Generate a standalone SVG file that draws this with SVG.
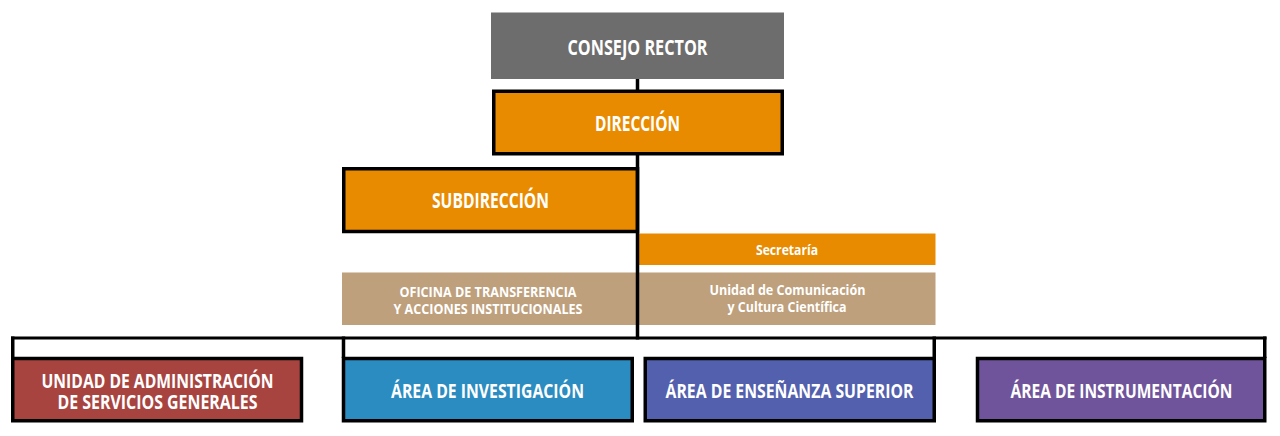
<svg xmlns="http://www.w3.org/2000/svg" width="1280" height="436" viewBox="0 0 1280 436">
<style>
.t{font-family:"Open Sans","Liberation Sans",sans-serif;font-weight:700;fill:#fff;text-anchor:middle}
.big{font-size:21px}
.bot{font-size:20px}
.two{font-size:19px}
.mid{font-size:15px}
.sm{font-size:15px}
.box{stroke:#000;stroke-width:3.5}
.orange{fill:#e98b00}
.tan{fill:#bea07c}
.ln{stroke:#000;fill:none}
</style>
<rect width="1280" height="436" fill="#fff"/>
<g id="consejo-rector">
<rect x="491" y="12.5" width="293" height="66.5" fill="#6d6d6d"/>
<text class="t big" x="637.5" y="55" textLength="140" lengthAdjust="spacingAndGlyphs">CONSEJO RECTOR</text>
</g>
<g id="direccion">
<rect class="box orange" x="493.75" y="91.25" width="288.5" height="62.5"/>
<text class="t big" x="637.5" y="131" textLength="85" lengthAdjust="spacingAndGlyphs">DIRECCIÓN</text>
</g>
<g id="subdireccion">
<rect class="box orange" x="343.75" y="168.75" width="293.75" height="62.75"/>
<text class="t big" x="490.5" y="207.5" textLength="117" lengthAdjust="spacingAndGlyphs">SUBDIRECCIÓN</text>
</g>
<g id="secretaria">
<rect class="orange" x="639" y="233.5" width="296.5" height="31.5"/>
<text class="t sm" x="787" y="254.5" textLength="62" lengthAdjust="spacingAndGlyphs">Secretaría</text>
</g>
<g id="oficina-transferencia">
<rect class="tan" x="342" y="272.5" width="295.5" height="52.5"/>
<text class="t mid" x="488" y="296.5" textLength="177" lengthAdjust="spacingAndGlyphs">OFICINA DE TRANSFERENCIA</text>
<text class="t mid" x="488" y="314" textLength="189" lengthAdjust="spacingAndGlyphs">Y ACCIONES INSTITUCIONALES</text>
</g>
<g id="unidad-comunicacion">
<rect class="tan" x="637.5" y="272.5" width="298" height="52.5"/>
<text class="t mid" x="787.5" y="295" textLength="156" lengthAdjust="spacingAndGlyphs">Unidad de Comunicación</text>
<text class="t mid" x="787" y="312" textLength="119" lengthAdjust="spacingAndGlyphs">y Cultura Científica</text>
</g>
<g id="unidad-administracion">
<rect class="box" x="12.75" y="358.5" width="288.75" height="62.25" fill="#a8443f"/>
<text class="t two" x="157.5" y="388" textLength="232" lengthAdjust="spacingAndGlyphs">UNIDAD DE ADMINISTRACIÓN</text>
<text class="t two" x="157.5" y="408.5" textLength="200" lengthAdjust="spacingAndGlyphs">DE SERVICIOS GENERALES</text>
</g>
<g id="area-investigacion">
<rect class="box" x="343.5" y="358.5" width="288.75" height="62.25" fill="#2a8cc0"/>
<text class="t bot" x="487.5" y="398" textLength="193" lengthAdjust="spacingAndGlyphs">ÁREA DE INVESTIGACIÓN</text>
</g>
<g id="area-ensenanza">
<rect class="box" x="645.25" y="358.5" width="289" height="62.25" fill="#5260ad"/>
<text class="t bot" x="789.5" y="398" textLength="248" lengthAdjust="spacingAndGlyphs">ÁREA DE ENSEÑANZA SUPERIOR</text>
</g>
<g id="area-instrumentacion">
<rect class="box" x="977.5" y="358.5" width="287.25" height="62.25" fill="#70549b"/>
<text class="t bot" x="1121.5" y="398" textLength="222" lengthAdjust="spacingAndGlyphs">ÁREA DE INSTRUMENTACIÓN</text>
</g>
<g id="connectors">
<line class="ln" x1="637.5" y1="79" x2="637.5" y2="90" stroke-width="3.5"/>
<line class="ln" x1="637.5" y1="155" x2="637.5" y2="339.5" stroke-width="3.5"/>
<line class="ln" x1="11" y1="338" x2="1266.5" y2="338" stroke-width="3"/>
<line class="ln" x1="12.75" y1="336.5" x2="12.75" y2="358" stroke-width="3.5"/>
<line class="ln" x1="343.5" y1="336.5" x2="343.5" y2="358" stroke-width="3.5"/>
<line class="ln" x1="934.25" y1="336.5" x2="934.25" y2="358" stroke-width="3.5"/>
<line class="ln" x1="1264.75" y1="336.5" x2="1264.75" y2="358" stroke-width="3.5"/>
</g>
</svg>
